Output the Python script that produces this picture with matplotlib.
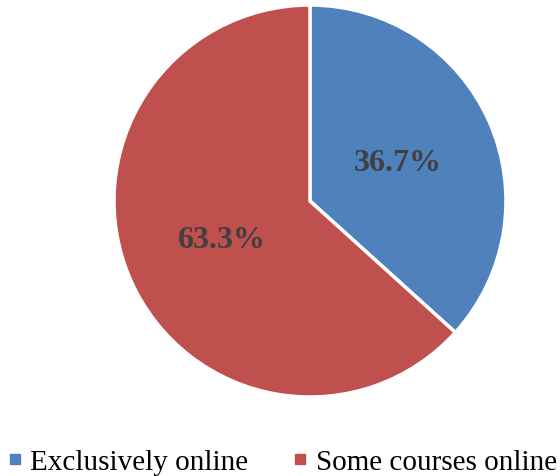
import matplotlib.pyplot as plt
from matplotlib.lines import Line2D

labels = ['Exclusively online', 'Some courses online']
shares = [36.7, 63.3]
colors = ['#4F81BD', '#C0504D']

plt.rcParams['font.family'] = ['Liberation Serif', 'DejaVu Serif']

fig = plt.figure(figsize=(5.6, 4.77), dpi=100)
ax = fig.add_axes([114 / 560, 79 / 477, 392 / 560, 392 / 477])

wedges, texts, autotexts = ax.pie(
    shares, colors=colors, startangle=90, counterclock=False,
    autopct='%.1f%%', pctdistance=0.49,
    wedgeprops=dict(edgecolor='white', linewidth=2.5),
    textprops=dict(fontsize=23, fontweight='bold', color='#404040'))
ax.set_xlim(-1, 1)
ax.set_ylim(-1, 1)
ax.set_aspect('equal')

handles = [Line2D([], [], marker='s', linestyle='none', markersize=6.5,
                  markerfacecolor=c, markeredgecolor=c) for c in colors]
fig.legend(handles, labels, loc='center', bbox_to_anchor=(0.506, 1 - 463 / 477),
           ncol=2, frameon=False, fontsize=21, handlelength=0.35,
           handletextpad=0.35, columnspacing=1.6, borderpad=0, borderaxespad=0)

fig.savefig('out.png', dpi=100)
